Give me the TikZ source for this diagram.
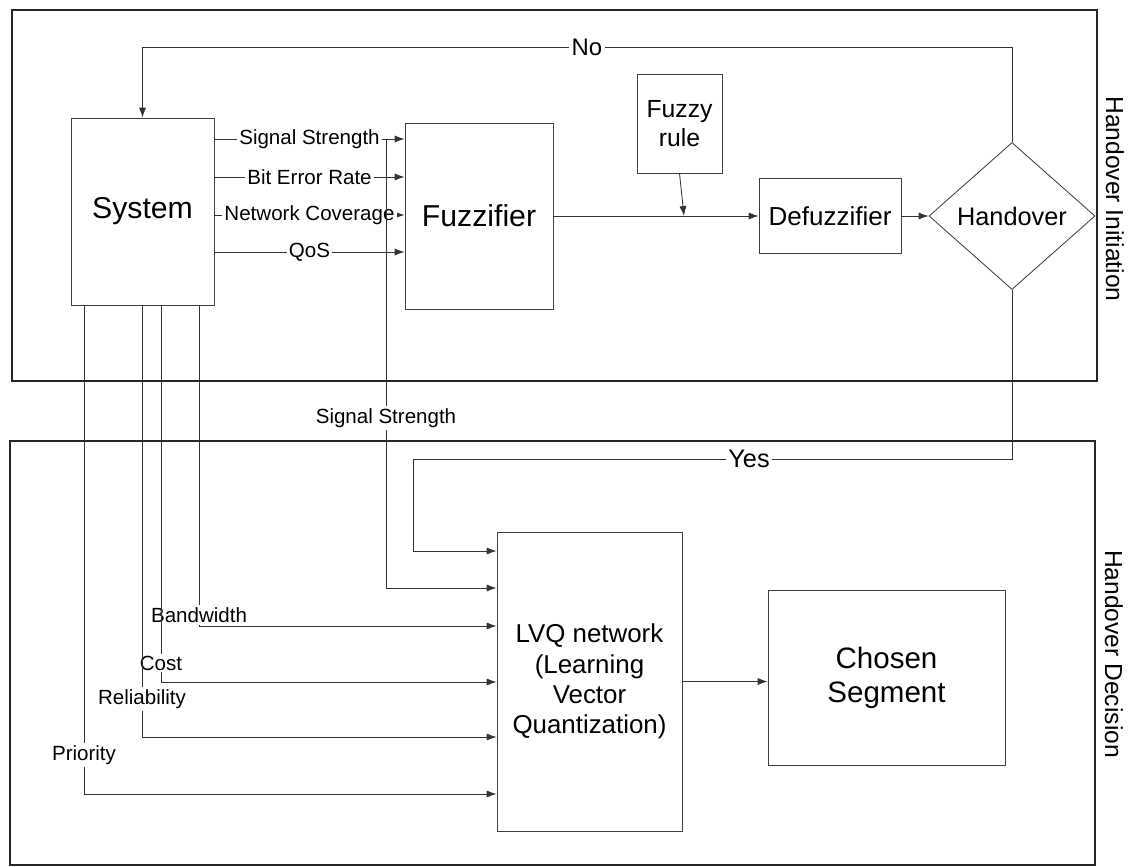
\documentclass[tikz,border=0pt]{standalone}
\usepackage{fontspec}
\setmainfont{Liberation Sans}
\usetikzlibrary{arrows.meta,shapes.geometric,positioning}

\tikzset{
  box/.style={draw=black!75, line width=0.6pt, inner sep=0pt, align=center},
  tag/.style={fill=white, inner sep=1.5pt, font=\fontsize{14.6}{17}\selectfont},
  link/.style={draw=black!80, line width=0.6pt, -{Latex[length=7pt,width=5pt]}},
  frame/.style={draw=black!85, line width=1.9pt},
  side/.style={font=\fontsize{17.5}{20}\selectfont, rotate=-90}
}

\begin{document}
\begin{tikzpicture}[x=0.025cm,y=-0.025cm]
\useasboundingbox (0,0) rectangle (1128,866);

% blocks
\node[box, minimum width=3.575cm, minimum height=4.675cm, font=\fontsize{21.5}{24}\selectfont] (system) at (142.5,211.5) {System};
\node[box, minimum width=3.7cm, minimum height=4.65cm, font=\fontsize{21.5}{24}\selectfont] (fuzzifier) at (479,216) {Fuzzifier};
\node[box, minimum width=2.125cm, minimum height=2.475cm, font=\fontsize{17.6}{21}\selectfont] (rule) at (679.5,123.5) {Fuzzy\\rule};
\node[box, minimum width=3.55cm, minimum height=1.875cm, font=\fontsize{18.5}{21}\selectfont] (defuzz) at (830,216) {Defuzzifier};
\node[draw=black!75, line width=0.6pt, diamond, inner sep=0pt, minimum width=4.15cm, minimum height=3.675cm, font=\fontsize{18}{21}\selectfont] (handover) at (1012,216) {Handover};
\node[box, minimum width=4.625cm, minimum height=7.475cm, font=\fontsize{18.4}{21.5}\selectfont] (lvq) at (589.5,681.5) {LVQ network\\(Learning\\Vector\\Quantization)};
\node[box, minimum width=5.925cm, minimum height=4.375cm, font=\fontsize{21}{24}\selectfont] (segment) at (886.5,677.5) {Chosen\\Segment};

% no handover: back to the system
\draw[link] (handover.north) |- (system.north |- 0,47) -- (system.north);
\node[fill=white, inner sep=2pt, font=\fontsize{17}{20}\selectfont] (no) at (587,47) {No};

% measurements into the fuzzifier
\foreach \y/\lbl in {139/Signal Strength,177/Bit Error Rate,215/Network Coverage,252/QoS}
  \draw[link] (system.east |- 0,\y) -- (fuzzifier.west |- 0,\y) node[tag,midway] (in\y) {\lbl};

\coordinate (rulein) at (684,216);
\draw[link] (rule.south) -- (rulein);
\draw[link] (fuzzifier) -- (defuzz);
\draw[link] (defuzz) -- (handover);

% signal strength also feeds the LVQ
\coordinate (ssbranch) at (386,139);
\draw[link] (ssbranch) |- (lvq.west |- 0,588);
\node[tag] (ss) at (386,418) {Signal Strength};

% handover: on to the decision
\draw[link] (handover.south) |- (413,459) |- (lvq.west |- 0,551);
\node[fill=white, inner sep=2pt, font=\fontsize{18}{21}\selectfont] (yes) at (749,459) {Yes};

% network parameters
\foreach \x/\y/\ly/\lbl in {199/626/615/Bandwidth,161/682/663/Cost,142/737/699/Reliability,84/794/755/Priority}{
  \draw[link] (system.south -| \x,0) |- (lvq.west |- 0,\y);
  \node[tag] (p\x) at (\x,\ly) {\lbl};
}

\draw[link] (lvq.east) -- (segment.west |- lvq.east);

% the two stages
\draw[frame] (12,10) rectangle (1097,381);
\draw[frame] (10,441) rectangle (1095,865);
\node[side] (init) at (1115,199) {Handover Initiation};
\node[side] (dec) at (1114,654) {Handover Decision};
\end{tikzpicture}
\end{document}
